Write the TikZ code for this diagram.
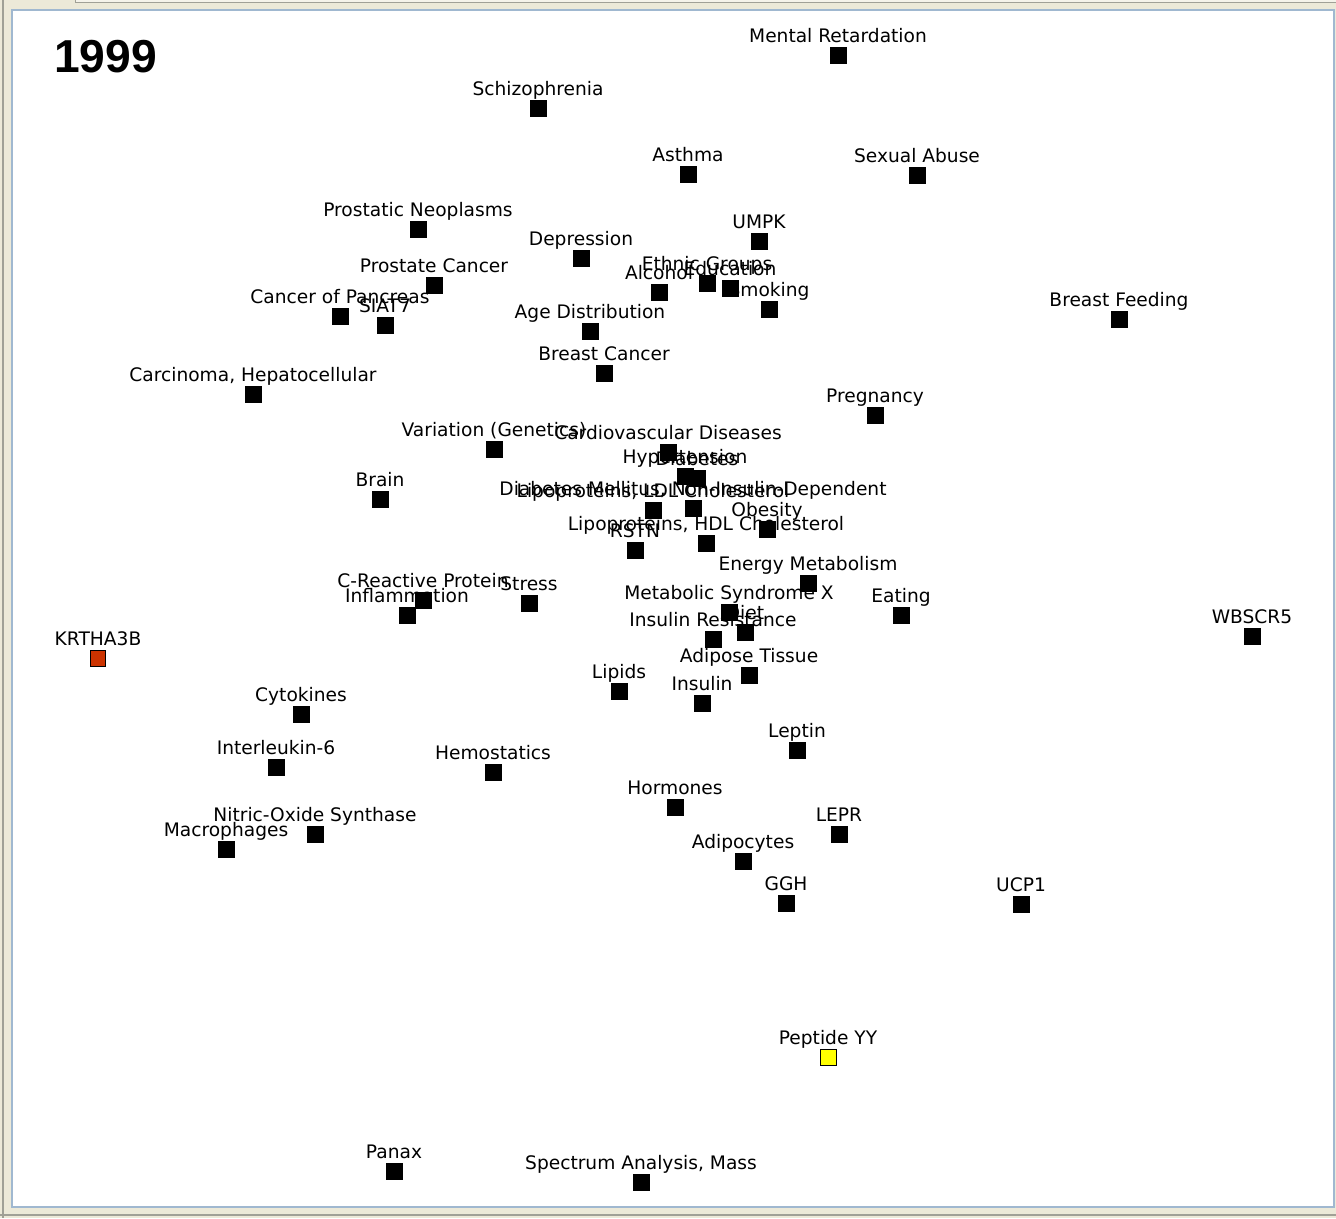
\documentclass[tikz,border=0pt]{standalone}
\usepackage{fontspec}
\setmainfont{DejaVu Sans}
\newfontfamily\yearfont{Liberation Sans}
\definecolor{winbeige}{RGB}{236,233,216}
\definecolor{winlight}{RGB}{245,243,234}
\definecolor{wingray}{RGB}{160,160,150}
\definecolor{panelblue}{RGB}{160,184,208}
\definecolor{krtred}{RGB}{204,51,0}
\definecolor{pyyellow}{RGB}{255,255,0}

\begin{document}
\begin{tikzpicture}[x=0.02cm, y=-0.02cm,
  term/.style={draw=black, fill=black, line width=0.02cm, minimum size=0.32cm, inner sep=0pt, label distance=0.1cm},
  every label/.style={font=\fontsize{10.6}{12}\selectfont, inner sep=0pt, text height=0.28cm, text depth=0.08cm}]
\useasboundingbox (0,0) rectangle (1336,1218);
\fill[winbeige] (0,0) rectangle (1336,1218);
\draw[wingray, line width=0.04cm] (3,0) -- (3,1218);
\draw[wingray, fill=winlight] (75,-5) rectangle (1340,2);
\draw[wingray, line width=0.04cm] (0,1215) -- (1336,1215);
\draw[panelblue, fill=white, line width=0.05cm] (12,10) rectangle (1334,1207);

\node[anchor=base west, font=\yearfont\bfseries\fontsize{26.3}{30}\selectfont] (yr) at (48,72) {1999};

\node[term, label=above:Mental Retardation] (mr) at (838,55) {};
\node[term, label=above:Schizophrenia] (sz) at (538,108) {};
\node[term, label=above:Asthma] (as) at (688,174) {};
\node[term, label=above:Sexual Abuse] (sa) at (917,175) {};
\node[term, label=above:Prostatic Neoplasms] (pn) at (418,229) {};
\node[term, label=above:UMPK] (um) at (759,241) {};
\node[term, label=above:Depression] (de) at (581,258) {};
\node[term, label=above:Ethnic Groups] (eg) at (707,283) {};
\node[term, label=above:Alcohol] (al) at (659,292) {};
\node[term, label=above:Education] (ed) at (730,288) {};
\node[term, label=above:Smoking] (sm) at (769,309) {};
\node[term, label=above:Prostate Cancer] (pc) at (434,285) {};
\node[term, label=above:Cancer of Pancreas] (cp) at (340,316) {};
\node[term, label=above:SIAT7] (si) at (385,325) {};
\node[term, label=above:Breast Feeding] (bf) at (1119,319) {};
\node[term, label=above:Age Distribution] (ad) at (590,331) {};
\node[term, label=above:Breast Cancer] (bc) at (604,373) {};
\node[term, label={above:{Carcinoma, Hepatocellular}}] (ch) at (253,394) {};
\node[term, label=above:Pregnancy] (pr) at (875,415) {};
\node[term, label=above:Variation (Genetics)] (vg) at (494,449) {};
\node[term, label=above:Cardiovascular Diseases] (cd) at (668,452) {};
\node[term, label=above:Hypertension] (ht) at (685,476) {};
\node[term, label=above:Diabetes] (db) at (697,478) {};
\node[term, label=above:Brain] (br) at (380,499) {};
\node[term, label={above:{Lipoproteins, LDL Cholesterol}}] (ldl) at (653,510) {};
\node[term, label={above:{Diabetes Mellitus, Non-Insulin-Dependent}}] (dm) at (693,508) {};
\node[term, label=above:Obesity] (ob) at (767,529) {};
\node[term, label={above:{Lipoproteins, HDL Cholesterol}}] (hdl) at (706,543) {};
\node[term, label=above:RSTN] (rs) at (635,550) {};
\node[term, label=above:Energy Metabolism] (em) at (808,583) {};
\node[term, label=above:C-Reactive Protein] (crp) at (423,600) {};
\node[term, label=above:Stress] (st) at (529,603) {};
\node[term, label=above:Inflammation] (in) at (407,615) {};
\node[term, label=above:Metabolic Syndrome X] (ms) at (729,612) {};
\node[term, label=above:Diet] (di) at (745,632) {};
\node[term, label=above:Eating] (ea) at (901,615) {};
\node[term, label=above:WBSCR5] (wb) at (1252,636) {};
\node[term, fill=krtred, label=above:KRTHA3B] (kr) at (98,658) {};
\node[term, label=above:Insulin Resistance] (ir) at (713,639) {};
\node[term, label=above:Adipose Tissue] (at) at (749,675) {};
\node[term, label=above:Lipids] (li) at (619,691) {};
\node[term, label=above:Insulin] (is) at (702,703) {};
\node[term, label=above:Cytokines] (cy) at (301,714) {};
\node[term, label=above:Leptin] (le) at (797,750) {};
\node[term, label=above:Interleukin-6] (il) at (276,767) {};
\node[term, label=above:Hemostatics] (hm) at (493,772) {};
\node[term, label=above:Hormones] (ho) at (675,807) {};
\node[term, label=above:Nitric-Oxide Synthase] (no) at (315,834) {};
\node[term, label=above:Macrophages] (ma) at (226,849) {};
\node[term, label=above:LEPR] (lp) at (839,834) {};
\node[term, label=above:Adipocytes] (ac) at (743,861) {};
\node[term, label=above:GGH] (gg) at (786,903) {};
\node[term, label=above:UCP1] (uc) at (1021,904) {};
\node[term, fill=pyyellow, label=above:Peptide YY] (py) at (828,1057) {};
\node[term, label=above:Panax] (pa) at (394,1171) {};
\node[term, label={above:{Spectrum Analysis, Mass}}] (sp) at (641,1182) {};
\end{tikzpicture}
\end{document}
